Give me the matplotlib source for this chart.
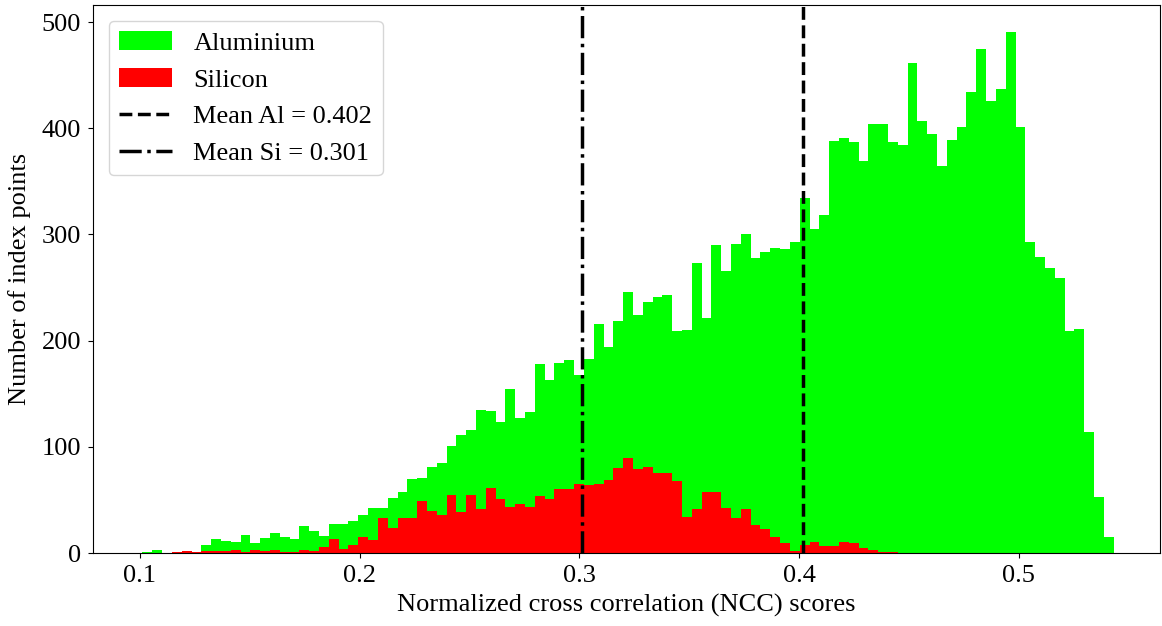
import numpy as np
import matplotlib
matplotlib.use("Agg")
import matplotlib.pyplot as plt

plt.rcParams['font.family'] = ['Liberation Serif', 'DejaVu Serif']

# histogram bins (99 equal bins)
bin_start = 0.10114
bin_end = 0.54322
n_bins = 99

aluminium = [1, 3, 0, 0, 1, 1, 8, 13, 11, 10,
             17, 9, 14, 19, 15, 13, 25, 21, 16, 27,
             27, 30, 36, 42, 42, 52, 57, 70, 71, 81,
             85, 101, 111, 116, 135, 134, 123, 154, 127, 133,
             178, 163, 179, 182, 168, 183, 216, 194, 218, 246,
             224, 236, 241, 243, 209, 210, 273, 221, 290, 266,
             291, 300, 278, 283, 287, 286, 293, 334, 305, 318,
             388, 391, 387, 369, 404, 404, 387, 384, 461, 407,
             395, 364, 389, 401, 434, 475, 426, 437, 491, 401,
             293, 279, 268, 259, 209, 211, 114, 53, 15]

silicon = [0, 0, 0, 1, 2, 1, 2, 2, 2, 3,
           1, 3, 2, 3, 1, 1, 3, 2, 6, 13,
           4, 8, 15, 12, 33, 24, 33, 33, 49, 40,
           36, 55, 39, 55, 41, 61, 51, 43, 46, 43,
           54, 51, 60, 60, 65, 64, 65, 69, 80, 89,
           79, 81, 75, 75, 68, 34, 41, 57, 57, 42,
           33, 41, 26, 23, 15, 9, 2, 8, 10, 7,
           7, 10, 9, 5, 3, 1, 1, 0, 0, 0,
           0, 0, 0, 0, 0, 0, 0, 0, 0, 0,
           0, 0, 0, 0, 0, 0, 0, 0, 0]

mean_al = 0.402
mean_si = 0.301

edges = np.linspace(bin_start, bin_end, n_bins + 1)
centers = (edges[:-1] + edges[1:]) / 2

fig = plt.figure(figsize=(11.62, 6.26), dpi=100)
ax = fig.add_axes([0.080, 0.1166, 0.9186, 0.8754])

ax.hist(centers, bins=edges, weights=aluminium, color='#00ff00', label='Aluminium')
ax.hist(centers, bins=edges, weights=silicon, color='#ff0000', label='Silicon')
ax.axvline(mean_al, color='black', linestyle='--', linewidth=2.5, label=f'Mean Al = {mean_al}')
ax.axvline(mean_si, color='black', linestyle='-.', linewidth=2.5, label=f'Mean Si = {mean_si}')

ax.set_xlim(0.0786, 0.5645)
ax.set_ylim(0, 516)
ax.set_xticks([0.1, 0.2, 0.3, 0.4, 0.5])
ax.set_yticks([0, 100, 200, 300, 400, 500])
ax.tick_params(labelsize=19, pad=5)

ax.set_xlabel('Normalized cross correlation (NCC) scores', fontsize=19, labelpad=5)
ax.set_ylabel('Number of index points', fontsize=19, labelpad=8)
ax.legend(loc='upper left', fontsize=19, borderaxespad=0.6)

fig.savefig('out.png', dpi=100)
